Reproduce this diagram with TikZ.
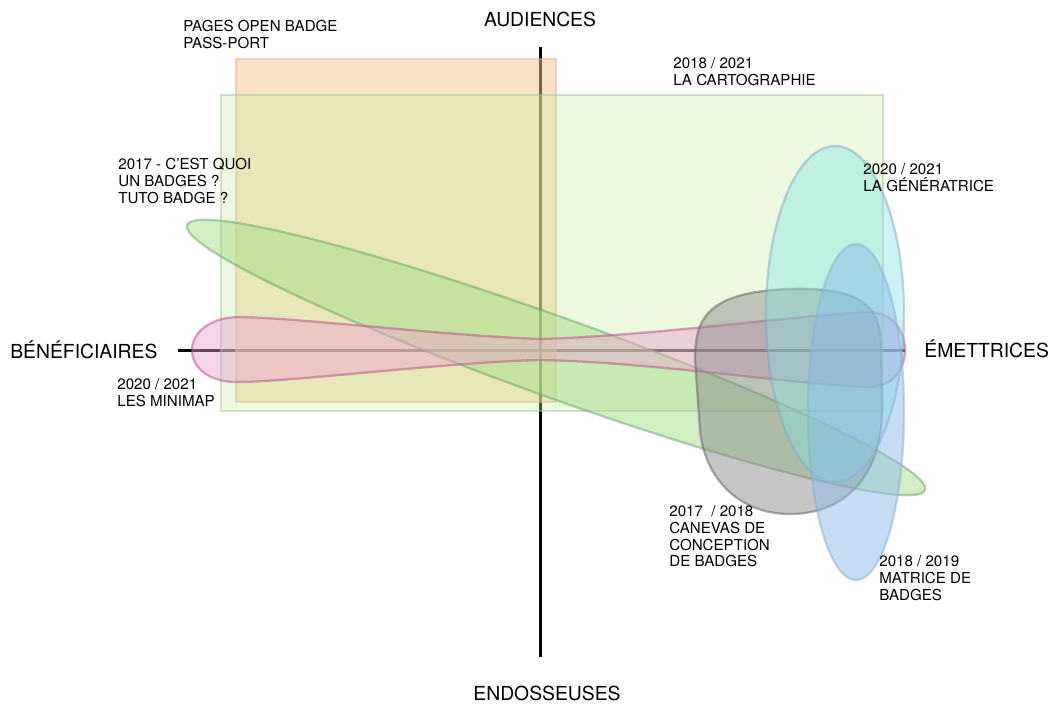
\documentclass[tikz,border=0pt]{standalone}
\usepackage{fontspec}
\setmainfont{TeX Gyre Heros}
\definecolor{passfill}{HTML}{F5C68C}
\definecolor{passline}{HTML}{F0A890}
\definecolor{cartofill}{HTML}{C8EFA5}
\definecolor{cartoline}{HTML}{A8C0A0}
\definecolor{tutofill}{HTML}{A6DE88}
\definecolor{tutoline}{HTML}{70A070}
\definecolor{minifill}{HTML}{EE9FD0}
\definecolor{miniline}{HTML}{B05080}
\definecolor{canvfill}{HTML}{8C8C8C}
\definecolor{canvline}{HTML}{606060}
\definecolor{genefill}{HTML}{80E2E2}
\definecolor{geneline}{HTML}{88A8C8}
\definecolor{matrfill}{HTML}{8CBCEC}
\definecolor{matrline}{HTML}{90B0D0}

\begin{document}
\begin{tikzpicture}[x=0.02cm, y=-0.02cm,
        axis/.style={line width=1.7pt, black},
        zone/.style={line width=1.3pt, draw opacity=0.5},
        tag/.style={anchor=north west, inner sep=0pt, align=left, font=\fontsize{8.6}{9.6}\selectfont},
        pole/.style={inner sep=0pt, font=\fontsize{11}{13}\selectfont}]
        \useasboundingbox (0,0) rectangle (1050,704);
        \coordinate (ytop) at (540,47);
        \coordinate (ybot) at (540,657);
        \coordinate (xleft) at (178,350);
        \coordinate (xright) at (905,350);
        \draw[axis] (ytop) -- (ybot);
        \draw[axis] (xleft) -- (xright);
        \draw[zone, fill=passfill, draw=passline, fill opacity=0.5] (236,59) rectangle (556,402);
        \draw[zone, fill=cartofill, draw=cartoline, fill opacity=0.35] (221,95) rectangle (883,411);
        \draw[zone, fill=tutofill, draw=tutoline, fill opacity=0.5, rotate around={-19.75:(556,357.5)}] (556,357.5) ellipse [x radius=392, y radius=40];
        \draw[zone, fill=minifill, draw=miniline, fill opacity=0.45] (540,339) .. controls (450,336) and (300,318) .. (240,317)
            .. controls (208,317) and (192,334) .. (192,350) .. controls (192,367) and (208,383) .. (240,382)
            .. controls (300,381) and (450,362) .. (540,360) .. controls (650,362) and (800,385) .. (868,387)
            .. controls (894,387) and (905,368) .. (905,350) .. controls (905,330) and (892,312) .. (868,312)
            .. controls (800,315) and (650,336) .. (540,339) -- cycle;
        \draw[zone, fill=canvfill, draw=canvline, fill opacity=0.5] (695,360) .. controls (695,320) and (705,292) .. (790,289)
            .. controls (860,287) and (880,305) .. (881,345) -- (882,410) .. controls (882,470) and (850,514) .. (790,514)
            .. controls (740,514) and (705,480) .. (700,430) -- cycle;
        \draw[zone, fill=genefill, draw=geneline, fill opacity=0.4] (835,314) ellipse [x radius=69, y radius=168];
        \draw[zone, fill=matrfill, draw=matrline, fill opacity=0.5] (856,412) ellipse [x radius=48, y radius=168];
        \node[pole, anchor=base] (audi) at (540,26) {AUDIENCES};
        \node[pole, anchor=base] (endo) at (547,700) {ENDOSSEUSES};
        \node[pole, anchor=base west] (benef) at (10,358) {BÉNÉFICIAIRES};
        \node[pole, anchor=base west] (emet) at (924,357) {ÉMETTRICES};
        \node[tag] (pages) at (183,20) {PAGES OPEN BADGE\\PASS-PORT};
        \node[tag] (carto) at (673,57) {2018 / 2021\\LA CARTOGRAPHIE};
        \node[tag] (gene) at (863,163) {2020 / 2021\\LA GÉNÉRATRICE};
        \node[tag] (tuto) at (118,158) {2017 - C’EST QUOI\\UN BADGES ?\\TUTO BADGE ?};
        \node[tag] (mini) at (117,378) {2020 / 2021\\LES MINIMAP};
        \node[tag] (canv) at (669,505) {2017\ \ / 2018\\CANEVAS DE\\CONCEPTION\\DE BADGES};
        \node[tag] (matr) at (879,555) {2018 / 2019\\MATRICE DE\\BADGES};
    \end{tikzpicture}
\end{document}
